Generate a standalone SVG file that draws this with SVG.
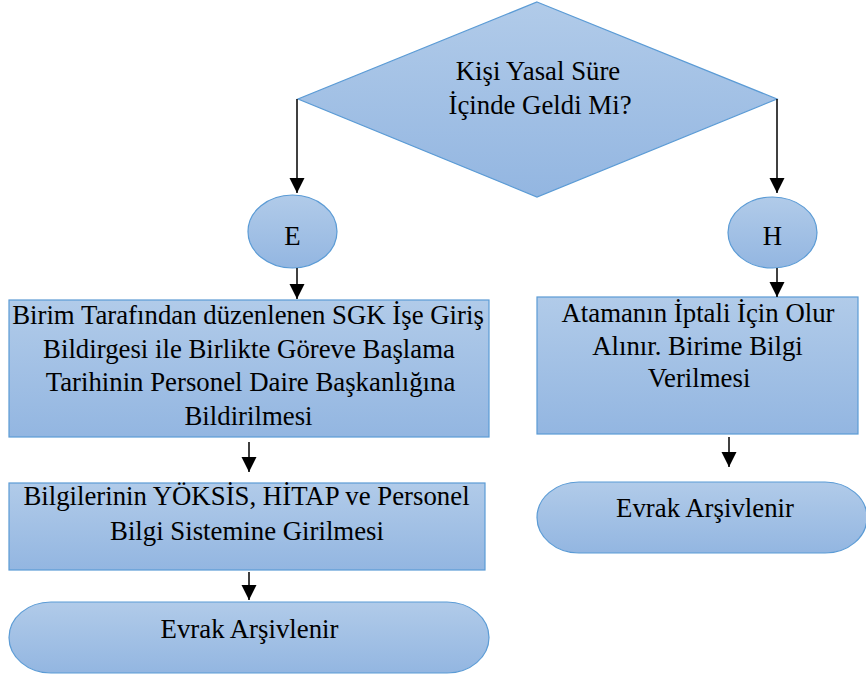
<svg xmlns="http://www.w3.org/2000/svg" width="866" height="680" viewBox="0 0 866 680">
<defs>
<linearGradient id="fillg" x1="0" y1="0" x2="0" y2="1">
<stop offset="0" stop-color="#b1cbe9"/>
<stop offset="1" stop-color="#93b6e1"/>
</linearGradient>
<marker id="arr" markerUnits="userSpaceOnUse" markerWidth="16" markerHeight="16" viewBox="0 0 16 16" refX="15" refY="8" orient="auto">
<path d="M0,0.5 L15,8 L0,15.5 z" fill="#000"/>
</marker>
</defs>
<style>
.shape{fill:url(#fillg);stroke:#5b9bd5;stroke-width:1.2}
.t{font-family:"Liberation Serif","Times New Roman",serif;font-size:26.8px;fill:#000;text-anchor:middle}
.conn line{stroke:#000;stroke-width:1.5;marker-end:url(#arr)}
</style>
<rect width="866" height="680" fill="#fff"/>
<g id="decision">
<polygon class="shape" points="537,2 777,99 537,197 298,99"/>
<text class="t" x="538" y="80">Kişi Yasal Süre</text>
<text class="t" x="540" y="113.5">İçinde Geldi Mi?</text>
</g>
<g id="node-e">
<ellipse class="shape" cx="292.5" cy="231.5" rx="44.5" ry="36.5"/>
<text class="t" x="292.5" y="245">E</text>
</g>
<g id="node-h">
<ellipse class="shape" cx="772.5" cy="232.5" rx="44.5" ry="35.5"/>
<text class="t" x="772.5" y="245">H</text>
</g>
<g id="step-sgk">
<rect class="shape" x="9" y="300" width="480" height="137"/>
<text class="t" x="248" y="324">Birim Tarafından düzenlenen SGK İşe Giriş</text>
<text class="t" x="249" y="357.5">Bildirgesi ile Birlikte Göreve Başlama</text>
<text class="t" x="250.5" y="391">Tarihinin Personel Daire Başkanlığına</text>
<text class="t" x="248.5" y="424.5">Bildirilmesi</text>
</g>
<g id="step-yoksis">
<rect class="shape" x="9" y="483" width="476" height="87"/>
<text class="t" x="246.5" y="505">Bilgilerinin YÖKSİS, HİTAP ve Personel</text>
<text class="t" x="247" y="540">Bilgi Sistemine Girilmesi</text>
</g>
<g id="end-left">
<rect class="shape" x="9" y="602" width="480" height="71" rx="42" ry="35.5"/>
<text class="t" x="249.5" y="637.5">Evrak Arşivlenir</text>
</g>
<g id="step-iptal">
<rect class="shape" x="537" y="297" width="321" height="137"/>
<text class="t" x="698" y="321.5">Atamanın İptali İçin Olur</text>
<text class="t" x="697.5" y="355">Alınır. Birime Bilgi</text>
<text class="t" x="699" y="386.5">Verilmesi</text>
</g>
<g id="end-right">
<rect class="shape" x="537" y="482" width="330" height="71" rx="42" ry="35.5"/>
<text class="t" x="705" y="516.5">Evrak Arşivlenir</text>
</g>
<g id="connectors" class="conn">
<line x1="297" y1="99" x2="297" y2="193"/>
<line x1="777" y1="99" x2="777" y2="193"/>
<line x1="297" y1="268" x2="297" y2="299"/>
<line x1="777" y1="268" x2="777" y2="297"/>
<line x1="249" y1="442" x2="249" y2="472"/>
<line x1="249" y1="572" x2="249" y2="600"/>
<line x1="729" y1="437" x2="729" y2="467"/>
</g>
</svg>
